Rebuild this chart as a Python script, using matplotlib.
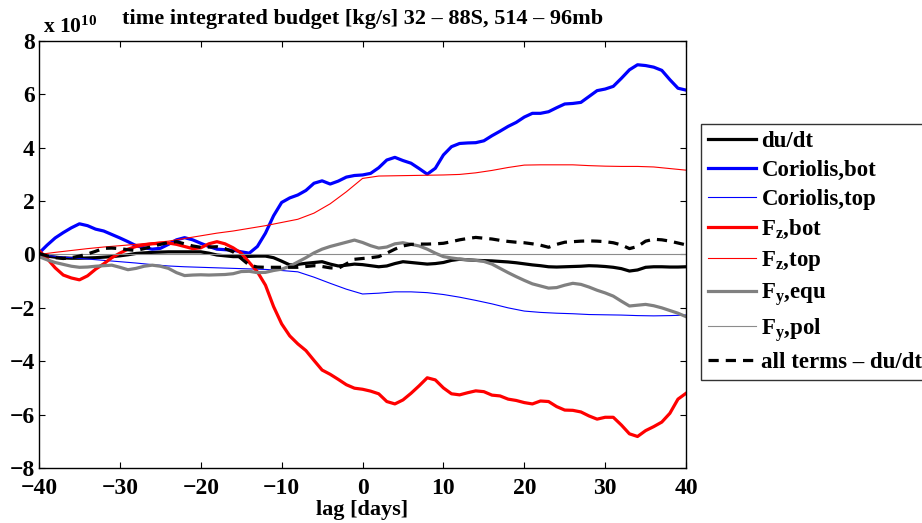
import numpy as np
import matplotlib
matplotlib.use('Agg')
import matplotlib.pyplot as plt

plt.rcParams['font.family'] = ['Liberation Serif', 'DejaVu Serif']
plt.rcParams['font.weight'] = 'bold'
plt.rcParams['mathtext.fontset'] = 'custom'
plt.rcParams['mathtext.rm'] = 'Liberation Serif:bold'
plt.rcParams['mathtext.it'] = 'Liberation Serif:bold'
plt.rcParams['mathtext.bf'] = 'Liberation Serif:bold'

# lag axis (days), daily and every second day
lag = np.arange(-40, 41)
lag2 = np.arange(-40, 41, 2)

# budget terms, units of 1e10 kg/s
du_dt = [0.0, -0.06, -0.1, -0.13, -0.14, -0.14, -0.13, -0.12, -0.1, -0.08,
         -0.05, -0.01, 0.04, 0.06, 0.08, 0.09, 0.1, 0.1, 0.1, 0.1,
         0.1, 0.05, -0.02, -0.05, -0.08, -0.08, -0.07, -0.06, -0.06, -0.12,
         -0.25, -0.39, -0.37, -0.33, -0.3, -0.27, -0.36, -0.43, -0.4, -0.36,
         -0.38, -0.42, -0.46, -0.43, -0.34, -0.27, -0.3, -0.33, -0.36, -0.34,
         -0.3, -0.22, -0.18, -0.2, -0.22, -0.23, -0.24, -0.26, -0.28, -0.31,
         -0.35, -0.39, -0.42, -0.46, -0.47, -0.46, -0.45, -0.44, -0.42, -0.43,
         -0.45, -0.48, -0.53, -0.62, -0.58, -0.48, -0.46, -0.46, -0.47, -0.47,
         -0.46]

coriolis_bot = [0.05, 0.35, 0.62, 0.82, 1.0, 1.15, 1.08, 0.95, 0.88, 0.75,
                0.62, 0.48, 0.33, 0.25, 0.2, 0.23, 0.38, 0.55, 0.63, 0.55,
                0.42, 0.3, 0.2, 0.18, 0.16, 0.1, 0.05, 0.3, 0.8, 1.45,
                1.95, 2.12, 2.23, 2.4, 2.67, 2.76, 2.64, 2.75, 2.9, 2.96,
                2.98, 3.04, 3.25, 3.54, 3.64, 3.52, 3.42, 3.22, 3.01, 3.23,
                3.73, 4.04, 4.16, 4.18, 4.19, 4.26, 4.45, 4.62, 4.8, 4.95,
                5.15, 5.29, 5.29, 5.35, 5.5, 5.64, 5.66, 5.7, 5.92, 6.14,
                6.2, 6.3, 6.6, 6.92, 7.11, 7.08, 7.02, 6.9, 6.55, 6.23,
                6.16]

coriolis_top = [0.0, -0.07, -0.12, -0.17, -0.22, -0.27, -0.32, -0.38, -0.43, -0.46,
                -0.48, -0.5, -0.52, -0.54, -0.56, -0.6, -0.65, -0.85, -1.08, -1.3,
                -1.48, -1.45, -1.4, -1.4, -1.43, -1.5, -1.6, -1.72, -1.85, -2.0,
                -2.12, -2.17, -2.2, -2.22, -2.25, -2.26, -2.27, -2.29, -2.3, -2.29,
                -2.27]

fz_bot = [0.15, -0.15, -0.5, -0.77, -0.88, -0.95, -0.8, -0.55, -0.35, -0.12,
          0.05, 0.2, 0.3, 0.36, 0.4, 0.42, 0.43, 0.38, 0.3, 0.22,
          0.25, 0.4, 0.48, 0.4, 0.25, 0.05, -0.3, -0.65, -1.15, -1.95,
          -2.6, -3.05, -3.35, -3.6, -3.97, -4.33, -4.49, -4.68, -4.88, -5.01,
          -5.05, -5.12, -5.22, -5.51, -5.6, -5.45, -5.2, -4.92, -4.62, -4.7,
          -5.0, -5.22, -5.26, -5.18, -5.11, -5.14, -5.27, -5.3, -5.42, -5.47,
          -5.55, -5.6, -5.49, -5.51, -5.7, -5.83, -5.84, -5.9, -6.05, -6.17,
          -6.1, -6.1, -6.39, -6.72, -6.82, -6.6, -6.45, -6.28, -5.95, -5.42,
          -5.2]

fz_top = [0.0, 0.08, 0.15, 0.22, 0.28, 0.33, 0.38, 0.44, 0.5, 0.6,
          0.7, 0.8, 0.88, 0.98, 1.08, 1.2, 1.32, 1.55, 1.9, 2.35,
          2.85, 2.94, 2.95, 2.96, 2.97, 2.98, 3.0, 3.06, 3.15, 3.26,
          3.35, 3.36, 3.36, 3.36, 3.33, 3.31, 3.3, 3.3, 3.28, 3.22,
          3.16]

fy_equ = [-0.08, -0.2, -0.3, -0.37, -0.44, -0.48, -0.47, -0.44, -0.42, -0.4,
          -0.48, -0.57, -0.52, -0.44, -0.4, -0.44, -0.52, -0.68, -0.79, -0.77,
          -0.76, -0.77, -0.76, -0.75, -0.72, -0.64, -0.63, -0.68, -0.67, -0.6,
          -0.55, -0.44, -0.28, -0.12, 0.06, 0.2, 0.3, 0.38, 0.46, 0.54,
          0.45, 0.33, 0.24, 0.28, 0.4, 0.44, 0.38, 0.32, 0.2, 0.05,
          -0.08, -0.13, -0.17, -0.2, -0.22, -0.26, -0.36, -0.52, -0.68, -0.83,
          -0.97, -1.1, -1.18, -1.26, -1.24, -1.15, -1.08, -1.12, -1.22, -1.34,
          -1.44, -1.56, -1.75, -1.93, -1.9, -1.87, -1.92, -2.0, -2.1, -2.2,
          -2.33]

fy_pol = [0.0, 0.0, 0.0, 0.0, 0.0, 0.0, 0.0, 0.0, 0.0, 0.0,
          0.0, 0.0, 0.0, 0.0, 0.0, 0.0, 0.0, 0.0, 0.0, 0.0,
          0.0, 0.0, 0.0, 0.0, 0.0, 0.0, 0.0, 0.0, 0.0, 0.0,
          0.0, 0.0, 0.0, 0.0, 0.0, 0.0, 0.0, 0.0, 0.0, 0.0,
          0.0]

residual = [0.04, -0.05, -0.12, -0.15, -0.12, -0.06, 0.02, 0.12, 0.23, 0.24,
            0.22, 0.18, 0.15, 0.22, 0.3, 0.38, 0.45, 0.48, 0.4, 0.32,
            0.27, 0.28, 0.29, 0.22, 0.1, -0.15, -0.4, -0.47, -0.48, -0.48,
            -0.48, -0.48, -0.48, -0.45, -0.42, -0.45, -0.5, -0.52, -0.35, -0.18,
            -0.15, -0.12, -0.08, 0.05, 0.2, 0.32, 0.38, 0.39, 0.39, 0.4,
            0.42, 0.48, 0.55, 0.6, 0.64, 0.61, 0.58, 0.53, 0.49, 0.46,
            0.44, 0.4, 0.35, 0.27, 0.38, 0.46, 0.48, 0.5, 0.51, 0.5,
            0.48, 0.44, 0.36, 0.22, 0.3, 0.5, 0.57, 0.55, 0.5, 0.43,
            0.36]

thick = 2.3
thin = 0.8

fig = plt.figure(figsize=(9.22, 5.23), dpi=100)
ax = fig.add_axes([0.0423, 0.1052, 0.7018, 0.8164])

ax.plot(lag, du_dt, color='k', lw=thick, label='du/dt')
ax.plot(lag, coriolis_bot, color='#0000ff', lw=thick, label='Coriolis,bot')
ax.plot(lag2, coriolis_top, color='#0000ff', lw=thin, label='Coriolis,top')
ax.plot(lag, fz_bot, color='#ff0000', lw=thick, label='F$_z$,bot')
ax.plot(lag2, fz_top, color='#ff0000', lw=thin, label='F$_z$,top')
ax.plot(lag, fy_equ, color='#808080', lw=thick, label='F$_y$,equ')
ax.plot(lag2, fy_pol, color='#8c8c8c', lw=thin, label='F$_y$,pol')
ax.axhline(0, color='k', lw=0.6, ls=(0, (0.6, 4.0)), zorder=1.5)
ax.plot(lag, residual, color='k', lw=thick, dashes=(3.2, 2.2),
        label='all terms \u2013 du/dt')

ax.set_xlim(-40, 40)
ax.set_ylim(-8, 8)
ax.set_xticks(np.arange(-40, 41, 10))
ax.set_yticks(np.arange(-8, 9, 2))
ax.tick_params(direction='in', top=True, right=True, length=4, width=0.8,
               labelsize=17)
ax.tick_params(axis='x', pad=7)
ax.tick_params(axis='y', pad=3)
for lbl in ax.get_xticklabels() + ax.get_yticklabels():
    lbl.set_fontweight('bold')
for sp in ax.spines.values():
    sp.set_linewidth(1.0)

ax.set_xlabel('lag [days]', fontsize=16, fontweight='bold', labelpad=1)
ax.set_title('time integrated budget [kg/s] 32 \u2013 88S, 514 \u2013 96mb',
             fontsize=16, fontweight='bold', pad=12)
ax.text(0.006, 1.008, r'x 10$^{10}$', transform=ax.transAxes,
        fontsize=15.5, fontweight='bold', ha='left', va='bottom')

leg = ax.legend(loc='upper left', bbox_to_anchor=(0.760, 0.763),
                bbox_transform=fig.transFigure, fontsize=16.5,
                frameon=True, fancybox=False, edgecolor='k',
                handlelength=2.1, handletextpad=0.25, labelspacing=0.35,
                borderpad=0.3, borderaxespad=0)
leg.get_frame().set_linewidth(1.0)
for t in leg.get_texts():
    t.set_fontweight('bold')

fig.savefig('out.png', dpi=100)
